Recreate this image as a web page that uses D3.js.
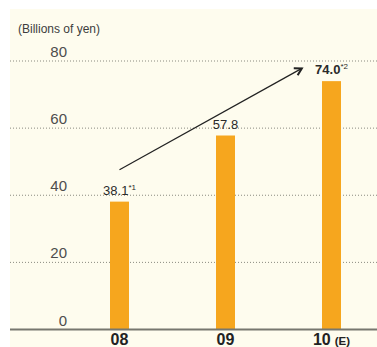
<!DOCTYPE html>
<html lang="en">
<head>
    <meta charset="UTF-8">
    <title>Billions of yen</title>
    <script src="https://d3js.org/d3.v7.min.js"></script>
    <style>
        body { margin: 0; background: #fff; }
        text { font-family: "Liberation Sans", Arial, sans-serif; }
        .grid line { stroke: #8a8a80; stroke-width: 1; stroke-dasharray: 1,2; }
    </style>
</head>
<body>
    <svg width="377" height="347"></svg>

    <script>
        // chart data
        const years = ["08", "09", "10"];
        const yearSuffix = ["", "", "(E)"];
        const values = [38.1, 57.8, 74.0];
        const valueNotes = ["*1", "", "*2"];
        const boldValue = [false, false, true];
        const yTicks = [0, 20, 40, 60, 80];
        // trend arrow, in (category index, value)
        const arrowFrom = [0, 47.6];
        const arrowTo = [1.72, 77.8];

        const svg = d3.select("svg");

        const y = d3.scaleLinear().domain([0, 80]).range([329.5, 61]);
        const x = d3.scalePoint().domain(years).range([119.5, 331.5]);
        const xi = d3.scaleLinear().domain([0, years.length - 1]).range(x.range());
        const barW = 19;

        // background panel
        svg.append("rect")
            .attr("x", 10).attr("y", 9)
            .attr("width", 367).attr("height", 338)
            .attr("fill", "#fefcee");

        // dotted gridlines
        svg.append("g").attr("class", "grid")
            .selectAll("line")
            .data(yTicks.filter(d => d > 0))
            .enter().append("line")
            .attr("x1", 10).attr("x2", 377)
            .attr("y1", d => y(d)).attr("y2", d => y(d));

        // y labels
        svg.append("g")
            .selectAll("text")
            .data(yTicks)
            .enter().append("text")
            .attr("x", 67)
            .attr("y", d => y(d) - 4)
            .attr("text-anchor", "end")
            .attr("font-size", 15)
            .attr("fill", "#4d4d4d")
            .text(d => d);

        svg.append("text")
            .attr("x", 18).attr("y", 33)
            .attr("font-size", 12)
            .attr("fill", "#3d3d3d")
            .text("(Billions of yen)");

        // bars
        svg.append("g")
            .selectAll("rect")
            .data(values)
            .enter().append("rect")
            .attr("x", (d, i) => x(years[i]) - barW / 2)
            .attr("y", d => y(d))
            .attr("width", barW)
            .attr("height", d => y(0) - y(d))
            .attr("fill", "#f6a61e");

        // baseline
        svg.append("line")
            .attr("x1", 10).attr("x2", 377)
            .attr("y1", y(0)).attr("y2", y(0))
            .attr("stroke", "#77776f")
            .attr("stroke-width", 2);

        // value labels
        const vl = svg.append("g")
            .selectAll("text")
            .data(values)
            .enter().append("text")
            .attr("x", (d, i) => x(years[i]))
            .attr("y", d => y(d) - 7)
            .attr("text-anchor", "middle")
            .attr("font-size", 13)
            .attr("fill", "#2a2a2a")
            .attr("font-weight", (d, i) => boldValue[i] ? "bold" : "normal");
        vl.append("tspan").text(d => d.toFixed(1));
        vl.append("tspan")
            .attr("font-size", 8)
            .attr("dy", -5)
            .attr("font-weight", "normal")
            .text((d, i) => valueNotes[i]);

        // x labels
        const xl = svg.append("g")
            .selectAll("text")
            .data(years)
            .enter().append("text")
            .attr("x", d => x(d))
            .attr("y", 345)
            .attr("text-anchor", "middle")
            .attr("font-weight", "bold")
            .attr("font-size", 16)
            .attr("fill", "#222");
        xl.append("tspan").text(d => d);
        xl.append("tspan")
            .attr("font-size", 11.5)
            .attr("dx", (d, i) => yearSuffix[i] ? 4 : 0)
            .text((d, i) => yearSuffix[i]);

        // trend arrow
        svg.append("defs").append("marker")
            .attr("id", "head")
            .attr("viewBox", "0 0 10 10")
            .attr("refX", 8).attr("refY", 5)
            .attr("markerWidth", 10).attr("markerHeight", 10)
            .attr("markerUnits", "userSpaceOnUse")
            .attr("orient", "auto")
            .append("path")
            .attr("d", "M1,1 L8,5 L1,9")
            .attr("fill", "none")
            .attr("stroke", "#222")
            .attr("stroke-width", 2);

        svg.append("line")
            .attr("x1", xi(arrowFrom[0])).attr("y1", y(arrowFrom[1]))
            .attr("x2", xi(arrowTo[0])).attr("y2", y(arrowTo[1]))
            .attr("stroke", "#222")
            .attr("stroke-width", 1.2)
            .attr("marker-end", "url(#head)");
    </script>
</body>
</html>
